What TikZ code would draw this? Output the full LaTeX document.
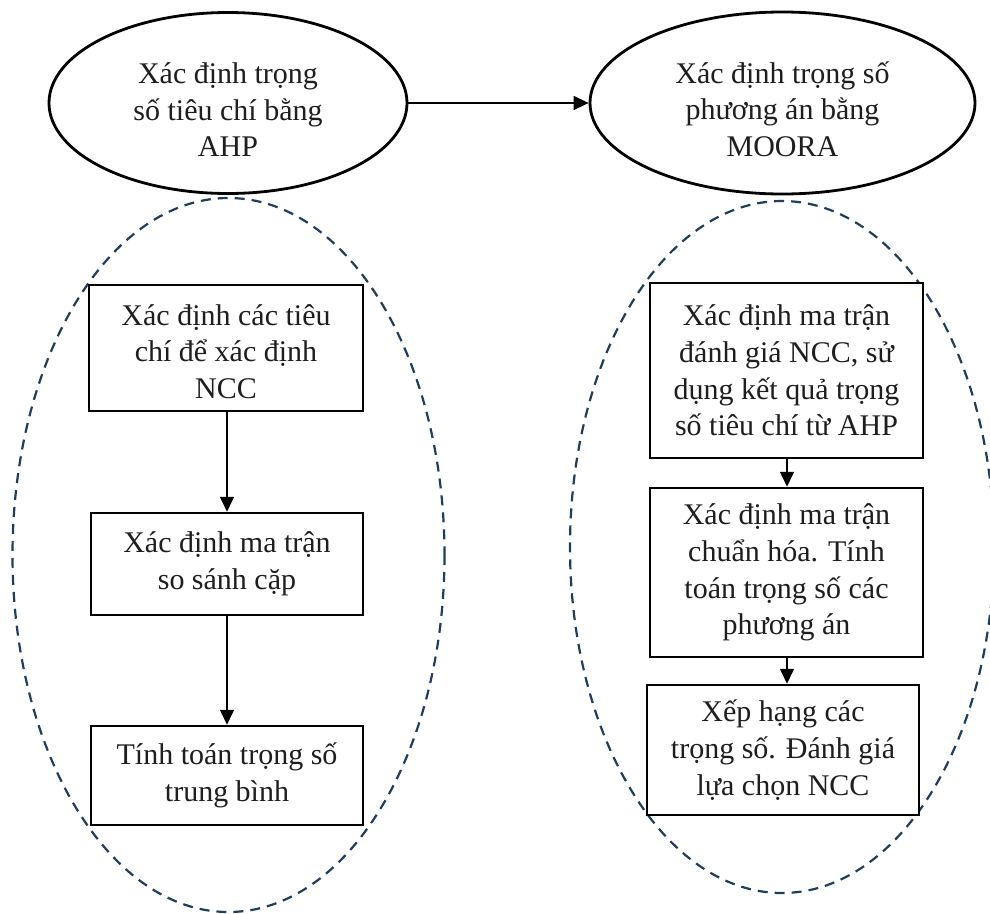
\documentclass[tikz,border=0pt]{standalone}
\usepackage{fontspec}
\setmainfont{Liberation Serif}
\usetikzlibrary{shapes.geometric,arrows.meta}
\definecolor{dashnavy}{RGB}{31,61,92}
\definecolor{txt}{RGB}{30,30,30}
\tikzset{
  topell/.style={ellipse, draw=black, line width=2.8pt, fill=white, inner sep=0pt, text=txt, align=center, font=\fontsize{30}{36.7}\selectfont},
  grp/.style={draw=dashnavy, line width=2.2pt, dash pattern=on 10pt off 7pt},
  stepbox/.style={rectangle, draw=black, line width=2.5pt, fill=white, inner sep=0pt, text=txt, align=center, font=\fontsize{30}{36.7}\selectfont},
  conn/.style={draw=black, line width=1.5pt, -{Triangle[length=15pt,width=14pt]}}
}
\begin{document}
\begin{tikzpicture}[x=1pt,y=-1pt]
\useasboundingbox (0,0) rectangle (990,913);
% dashed group ellipses
\draw[grp] (228.5,555) ellipse [x radius=216, y radius=357];
\draw[grp] (782,547) ellipse [x radius=212, y radius=346];
% top ellipses
\node[topell, minimum width=358pt, minimum height=181pt] (ahp) at (228,103) {\rule{0pt}{34pt}Xác định trọng\\số tiêu chí bằng\\AHP};
\node[topell, minimum width=385pt, minimum height=182pt] (moora) at (782.5,103) {\rule{0pt}{34pt}Xác định trọng số\\phương án bằng\\MOORA};
% left boxes
\node[stepbox, minimum width=274pt, minimum height=126pt] (l1) at (226,348) {\rule{0pt}{28pt}Xác định các tiêu\\chí để xác định\\NCC};
\node[stepbox, minimum width=272pt, minimum height=102pt] (l2) at (227,564) {Xác định ma trận\\so sánh cặp};
\node[stepbox, minimum width=272pt, minimum height=99pt] (l3) at (227,775.5) {Tính toán trọng số\\trung bình};
% right boxes
\node[stepbox, minimum width=273pt, minimum height=175pt] (r1) at (786.5,370.5) {Xác định ma trận\\đánh giá NCC, sử\\dụng kết quả trọng\\số tiêu chí từ AHP};
\node[stepbox, minimum width=273pt, minimum height=169pt] (r2) at (786.5,572.5) {Xác định ma trận\\chuẩn hóa. Tính\\toán trọng số các\\phương án};
\node[stepbox, minimum width=272pt, minimum height=130pt] (r3) at (783,750) {Xếp hạng các\\trọng số. Đánh giá\\lựa chọn NCC};
% connectors
\draw[conn] (ahp.east) -- (moora.west);
\draw[conn] (l1.south -| 227,0) -- (l2.north -| 227,0);
\draw[conn] (l2) -- (l3);
\draw[conn] (r1.south -| 787,0) -- (r2.north -| 787,0);
\draw[conn] (r2.south -| 787,0) -- (r3.north -| 787,0);
\end{tikzpicture}
\end{document}
